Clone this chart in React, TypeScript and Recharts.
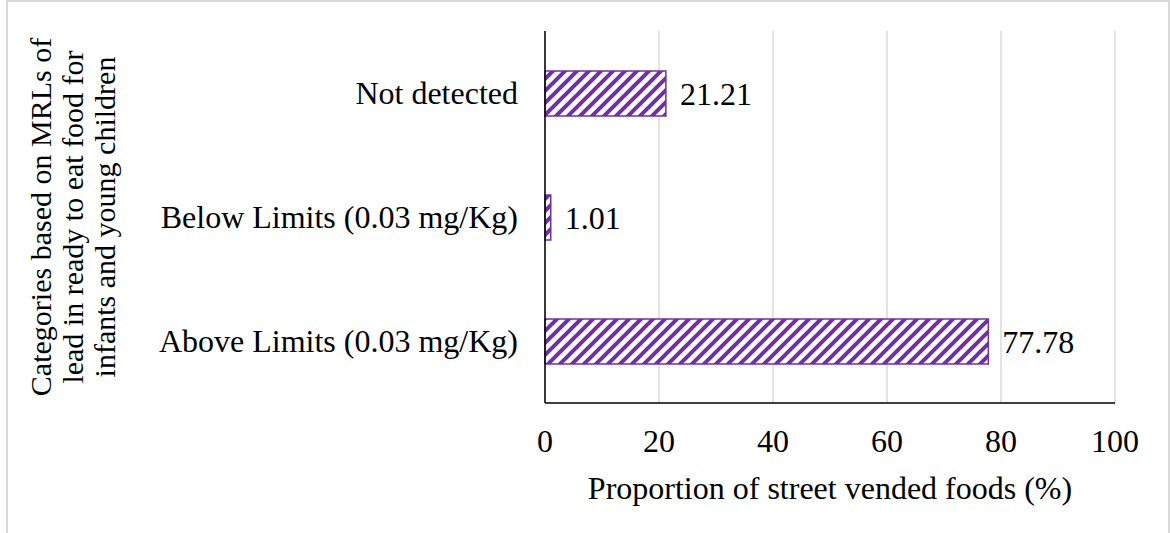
import React from "react";
import {
  BarChart,
  Bar,
  XAxis,
  YAxis,
  CartesianGrid,
  LabelList,
} from "recharts";

const categories = [
  "Not detected",
  "Below Limits (0.03 mg/Kg)",
  "Above Limits (0.03 mg/Kg)",
];
const proportions = [21.21, 1.01, 77.78];
const xTicks = [0, 20, 40, 60, 80, 100];
const xTitle = "Proportion of street vended foods (%)";
const yTitleLines = [
  "Categories based on MRLs of",
  "lead in ready to eat food for",
  "infants and young children",
];

const FONT = "'Liberation Serif', 'Times New Roman', serif";
const PURPLE = "#7030A0";

const data = categories.map((name, i) => ({ name, value: proportions[i] }));

// rotated, three line title drawn left of the category labels
function YTitle(props: any) {
  const vb = props.viewBox || { x: 0, y: 0, width: 0, height: 0 };
  const cy = vb.y + vb.height / 2;
  const firstX = vb.x + 40;
  return (
    <g>
      {yTitleLines.map((line, i) => {
        const x = firstX + i * 32;
        return (
          <text
            key={line}
            x={x}
            y={cy}
            transform={`rotate(-90 ${x} ${cy})`}
            textAnchor="middle"
            dominantBaseline="central"
            style={{ fontFamily: FONT, fontSize: 30, fill: "#000" }}
          >
            {line}
          </text>
        );
      })}
    </g>
  );
}

export default function App() {
  return (
    <div
      style={{
        position: "absolute",
        left: 0,
        top: 0,
        width: 1170,
        height: 533,
        overflow: "hidden",
        background: "#fff",
      }}
    >
      <div
        style={{
          position: "absolute",
          left: 6,
          top: 0,
          width: 1164,
          height: 600,
          boxSizing: "border-box",
          border: "2px solid #d9d9d9",
        }}
      />
      <div style={{ position: "absolute", left: 0, top: 0 }}>
        <BarChart
          width={1170}
          height={533}
          data={data}
          layout="vertical"
          margin={{ top: 31, right: 55, left: 0, bottom: 34 }}
        >
          <defs>
            <pattern
              id="wideUpDiag"
              patternUnits="userSpaceOnUse"
              width={12}
              height={12}
            >
              <rect width={12} height={12} fill="#fff" />
              <path
                d="M-3,3 L3,-3 M0,12 L12,0 M9,15 L15,9"
                stroke={PURPLE}
                strokeWidth={4}
              />
            </pattern>
          </defs>
          <CartesianGrid
            horizontal={false}
            stroke="#d9d9d9"
            strokeWidth={1.5}
          />
          <XAxis
            type="number"
            domain={[0, 100]}
            ticks={xTicks}
            tickLine={false}
            tickSize={0}
            tickMargin={26}
            height={96}
            axisLine={{ stroke: "#000", strokeWidth: 1.5 }}
            tick={{ fontSize: 32, fill: "#000", fontFamily: FONT }}
            label={{
              value: xTitle,
              position: "insideBottom",
              offset: 0,
              fontSize: 32,
              fill: "#000",
              fontFamily: FONT,
            }}
          />
          <YAxis
            type="category"
            dataKey="name"
            width={545}
            tickLine={false}
            tickSize={0}
            tickMargin={27}
            axisLine={{ stroke: "#000", strokeWidth: 1.5 }}
            tick={{ fontSize: 32, fill: "#000", fontFamily: FONT }}
            label={(p: any) => <YTitle {...p} />}
          />
          <Bar
            dataKey="value"
            fill="url(#wideUpDiag)"
            stroke={PURPLE}
            strokeWidth={1.5}
            barSize={45}
            isAnimationActive={false}
          >
            <LabelList
              dataKey="value"
              position="right"
              offset={14}
              fontSize={32}
              fill="#000"
              fontFamily={FONT}
            />
          </Bar>
        </BarChart>
      </div>
    </div>
  );
}
